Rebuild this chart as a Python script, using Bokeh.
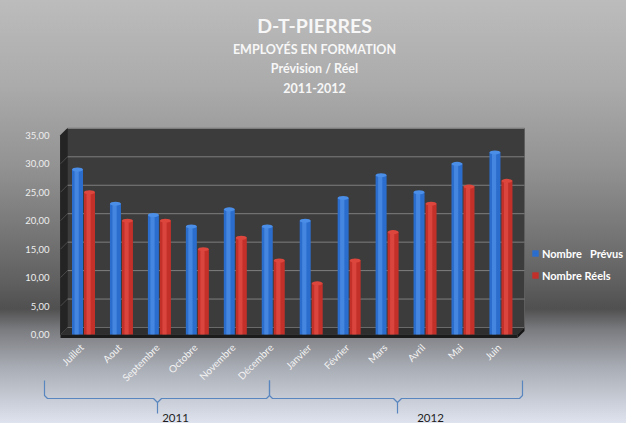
import numpy as np
from bokeh.plotting import figure
from bokeh.models import (Range1d, LinearAxis, FixedTicker, CustomJSTickFormatter,
                          Legend, LegendItem)
from bokeh.core.properties import value
from bokeh.embed import file_html
from bokeh.resources import INLINE

# ---------------- data ----------------
months = ["Juillet", "Aout", "Septembre", "Octobre", "Novembre", "Décembre",
          "Janvier", "Février", "Mars", "Avril", "Mai", "Juin"]
years = ["2011", "2012"]
prevus = [29, 23, 21, 19, 22, 19, 20, 24, 28, 25, 30, 32]
reels = [25, 20, 20, 15, 17, 13, 9, 13, 18, 23, 26, 27]
y_ticks = [0, 5, 10, 15, 20, 25, 30, 35]
series_names = ["Nombre   Prévus", "Nombre Réels"]
title_lines = ["D-T-PIERRES", "EMPLOYÉS EN FORMATION", "Prévision / Réel", "2011-2012"]

# ---------------- geometry (pixel layout) ----------------
W, H = 626, 423
FRAME_LEFT = 36
OX, OY = 8, 15           # reference-pixel offset of the canvas
CAT0, STEP = 91.0, 37.95  # first category centre / spacing (px)
ZERO_Y, PPU = 349.0, 5.69  # baseline px / px per unit


def ux(rx):
    return (rx - CAT0) / STEP


def uy(ry):
    return (ZERO_Y - ry) / PPU


DX, DY = 7 / STEP, 7 / PPU
FONT = value("Lato")

p = figure(width=W, height=H, output_backend="svg", toolbar_location=None, tools="",
           x_range=Range1d(ux(OX + FRAME_LEFT), ux(OX + W)),
           y_range=Range1d(uy(OY + H), uy(OY)),
           x_axis_type=None, y_axis_type=None, title=None,
           min_border_left=FRAME_LEFT, min_border_right=0,
           min_border_top=0, min_border_bottom=0)
p.outline_line_color = None
p.background_fill_color = None
p.border_fill_color = None
p.styles = {"background": "linear-gradient(to bottom, #bcbcbc 0%, #ababab 20%, #939393 39%, "
                          "#767676 55%, #5f5f5f 67%, #505050 73%, #7b7c80 78%, "
                          "#a9adb5 87%, #dfe3ee 100%)"}

ymax = max(y_ticks)
wl, wr = ux(75), ux(532)
fl, fr = ux(68), ux(525)

# back wall
p.quad(left=wl, right=wr, bottom=DY, top=ymax + DY, fill_color="#3c3c3c",
       line_color="#5e5e5e", line_width=1)
# left side wall
p.patch([fl, wl, wl, fl], [0, DY, ymax + DY, ymax], fill_color="#242424", line_color="#2a2a2a")
# floor
p.patch([fl, wl, wr, fr], [0, DY, DY, 0], fill_color="#2e2e2e", line_color="#444444", line_width=0.8)
p.quad(left=fl, right=fr, top=0, bottom=uy(352.5), fill_color="#1b1b1b", line_color=None)
p.patch([fr, wr, wr, fr], [0, DY, uy(345.5), uy(352.5)], fill_color="#151515", line_color=None)

# gridlines
gx = [[wl, wr] for v in y_ticks[1:]]
gy = [[v + DY, v + DY] for v in y_ticks[1:]]
p.multi_line(gx, gy, line_color="#8a8a8a", line_width=1, line_alpha=0.85)
sx = [[fl, wl] for v in y_ticks[1:-1]]
sy = [[v, v + DY] for v in y_ticks[1:-1]]
p.multi_line(sx, sy, line_color="#4a4a4a", line_width=1)
p.line([wl, wr], [DY, DY], line_color="#6a6a6a", line_width=1)

# bars (cylinders)
idx = np.arange(len(months))
OFF, BW = 6 / STEP, 11 / STEP
cap_h = 4 / PPU
xb, xr = idx - OFF, idx + OFF
rb = p.vbar(x=xb, top=prevus, bottom=0, width=BW, fill_color="#2b6dcc", line_color=None)
p.vbar(x=xb - BW * 0.08, top=prevus, bottom=0, width=BW * 0.38, fill_color="#5b9cf0",
       fill_alpha=0.55, line_color=None)
p.ellipse(x=xb, y=prevus, width=BW, height=cap_h, fill_color="#4a8ee8", line_color=None)

rr = p.vbar(x=xr, top=reels, bottom=0, width=BW, fill_color="#c3302a", line_color=None)
p.vbar(x=xr - BW * 0.08, top=reels, bottom=0, width=BW * 0.38, fill_color="#ec5a4e",
       fill_alpha=0.55, line_color=None)
p.ellipse(x=xr, y=reels, width=BW, height=cap_h, fill_color="#dc463c", line_color=None)

# y axis (left panel; labels pushed right to sit just before the chart body)
yaxis = LinearAxis(ticker=FixedTicker(ticks=y_ticks),
                   formatter=CustomJSTickFormatter(code="return tick.toFixed(2).replace('.', ',');"))
yaxis.axis_line_color = None
yaxis.major_tick_line_color = None
yaxis.minor_tick_line_color = None
yaxis.major_tick_in = 0
yaxis.major_tick_out = 0
yaxis.major_label_standoff = -13
yaxis.major_label_text_color = "#eeeeee"
yaxis.major_label_text_font = "Lato"
yaxis.major_label_text_font_size = "9.5px"
p.add_layout(yaxis, "left")

# month labels
p.text(x=idx - 0.05, y=uy(360), text=months, angle=np.pi / 4, text_align="right",
       text_baseline="middle", text_font=FONT, text_font_size="10px", text_color="#f2f2f2")

# year brackets
brackets = [(52, 277, 165), (277, 530, 405)]
bxs, bys = [], []
for x0, x1, t in brackets:
    bxs.append([ux(v) for v in [x0, x0, x0 + 3, t - 4, t, t, t, t + 4, x1 - 3, x1, x1]])
    bys.append([uy(v) for v in [395, 410, 413, 413, 417, 428, 417, 413, 413, 410, 395]])
p.multi_line(bxs, bys, line_color="#5a86c0", line_width=1.2)
p.text(x=[ux(183), ux(438)], y=uy(432), text=years, text_align="center", text_baseline="middle",
       text_font=FONT, text_font_size="11.5px", text_color="#1e1e1e")

# titles
tx = ux(322)
p.text(x=[tx], y=[uy(40)], text=[title_lines[0]], text_align="center", text_baseline="middle",
       text_font=FONT, text_font_style="bold", text_font_size="19.5px", text_color="#f7f7f7")
p.text(x=[tx] * 3, y=[uy(64), uy(83), uy(102)], text=title_lines[1:], text_align="center",
       text_baseline="middle", text_font=FONT, text_font_style="bold", text_font_size="12.5px",
       text_color="#f7f7f7")

# legend
legend = Legend(items=[LegendItem(label=series_names[0], renderers=[rb]),
                       LegendItem(label=series_names[1], renderers=[rr])],
                location=(495, 138), orientation="vertical")
legend.label_text_color = "#ffffff"
legend.label_text_font = "Lato"
legend.label_text_font_style = "bold"
legend.label_text_font_size = "11px"
legend.glyph_width = 8
legend.glyph_height = 8
legend.label_standoff = 3
legend.spacing = 2
legend.label_height = 20
legend.padding = 0
legend.margin = 0
legend.background_fill_alpha = 0
legend.border_line_alpha = 0
p.add_layout(legend)

open("out.html", "w").write(file_html(p, INLINE))
